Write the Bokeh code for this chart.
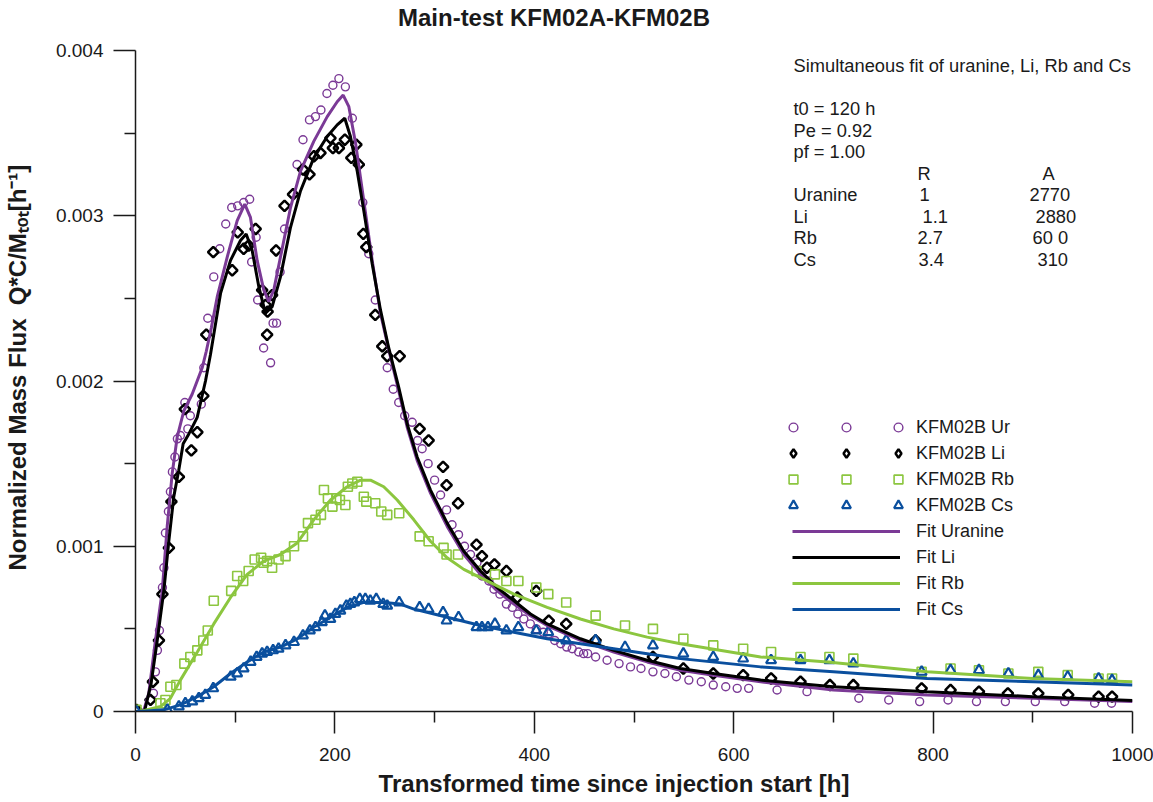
from math import pi
from bokeh.plotting import figure
from bokeh.models import (Range1d, Label, Legend, LegendItem, FixedTicker,
                          CustomJSTickFormatter, LinearAxis)
from bokeh.embed import file_html
from bokeh.resources import INLINE

# ---------------- data ----------------
ur_t = [1, 18, 20, 22, 24, 27, 28.5, 30, 33, 35, 37, 39.5, 42, 45, 49.5, 52.5, 55, 66, 68.5,
        72.5, 78.5, 84.5, 90.5, 96.5, 102.5, 108.5, 114.5, 116.5, 121, 122.5, 128.5, 135.5,
        138, 141.5, 145, 149.5, 162, 168, 174.5, 180.5, 186, 192, 198, 204, 210.5, 217.5,
        228, 234, 240.5, 247.5, 252.5, 258.5, 264, 270, 277.5, 283, 287.5, 293.5, 300, 306,
        312, 317.5, 324, 330, 336, 342.5, 347.5, 354.5, 359.5, 365.5, 372, 378, 383.5, 389.5,
        396, 402, 409, 414.5, 420.5, 426.5, 432.5, 438, 444.5, 449.5, 453.5, 461.5, 473, 485,
        496.5, 507, 519, 531, 542.5, 555, 567.5, 579.5, 592, 603.5, 615, 643.5, 673.5, 725.5,
        755.5, 786.5, 815, 843.5, 872.5, 902.5, 932, 962, 979]
ur_v = [0.0, 0.00011, 0.00024, 0.00037, 0.00049, 0.00075, 0.00087, 0.00108, 0.00121, 0.00133,
        0.00145, 0.00154, 0.00165, 0.00167, 0.00187, 0.00171, 0.00179, 0.00186, 0.00208,
        0.00238, 0.00263, 0.0028, 0.00295, 0.00305, 0.00306, 0.00308, 0.0031, 0.00272, 0.00287,
        0.00249, 0.0022, 0.00211, 0.00235, 0.00235, 0.00266, 0.00292, 0.00331, 0.00346, 0.00358,
        0.0036, 0.00364, 0.00374, 0.00379, 0.00383, 0.00378, 0.00359, 0.00308, 0.00277, 0.00249,
        0.00221, 0.00208, 0.00195, 0.00187, 0.00179, 0.00175, 0.00164, 0.00159, 0.0015, 0.0014,
        0.00131, 0.00122, 0.00113, 0.00107, 0.001, 0.00095, 0.0009, 0.00082, 0.00079, 0.00074,
        0.00071, 0.00065, 0.00063, 0.00059, 0.00056, 0.00053, 0.0005, 0.00048, 0.00047, 0.00043,
        0.00041, 0.00039, 0.00038, 0.00036, 0.00035, 0.00035, 0.00033, 0.00031, 0.00029,
        0.00027, 0.00026, 0.00024, 0.00023, 0.00021, 0.00019, 0.00018, 0.00016, 0.00015,
        0.00014, 0.00014, 0.00013, 0.00012, 0.00008, 0.00007, 0.00006, 0.00007, 0.00006,
        0.00006, 0.00006, 0.00006, 0.00005, 0.00005]

li_t = [1, 15, 17.5, 23.5, 27, 33.5, 36, 43.5, 49.5, 56, 62, 68, 71, 78, 97, 102.5, 108.5,
        113.5, 120.5, 127, 130.5, 132, 132.5, 137, 141, 149.5, 158, 168, 174.5, 179, 185.5,
        195.5, 198, 204, 210, 216.5, 221.5, 224, 228.5, 231.5, 240.5, 247.5, 252.5, 265, 285,
        294, 308.5, 312, 323.5, 342, 347.5, 352.5, 360, 372, 383, 402, 414.5, 432, 461.5, 519,
        549.5, 579.5, 609.5, 637.5, 667, 696.5, 720, 788.5, 817.5, 846, 875, 905.5, 935.5, 966,
        979.5]
li_v = [0.00001, 0.00007, 0.00018, 0.00043, 0.00071, 0.00099, 0.00127, 0.00142, 0.00183,
        0.00158, 0.00169, 0.00191, 0.00228, 0.00278, 0.00267, 0.0029, 0.0028, 0.00282, 0.00292,
        0.00255, 0.00246, 0.00228, 0.00242, 0.00252, 0.00279, 0.00306, 0.00313, 0.00328,
        0.00325, 0.00336, 0.00338, 0.00347, 0.00341, 0.00341, 0.00346, 0.00335, 0.00343,
        0.00331, 0.00289, 0.00281, 0.0024, 0.00221, 0.00215, 0.00215, 0.00171, 0.00164,
        0.00148, 0.00137, 0.00126, 0.00101, 0.00094, 0.00087, 0.00089, 0.00085, 0.00069,
        0.00073, 0.00055, 0.00053, 0.00043, 0.00033, 0.00026, 0.00023, 0.00022, 0.0002,
        0.00018, 0.00016, 0.00016, 0.00014, 0.00013, 0.00012, 0.00011, 0.00011, 0.0001,
        0.00009, 0.00009]

rb_t = [1, 25, 30, 35, 41, 49, 55, 62, 68, 72.5, 78.5, 96, 102, 108, 113.5, 119.5, 126, 128.5,
        132, 137, 143.5, 150.5, 159, 168, 173, 180.5, 186, 189, 193, 197.5, 201.5, 205, 210.5,
        213, 217.5, 222.5, 229, 231.5, 240.5, 246.5, 252.5, 264.5, 285, 294, 309, 312, 323.5,
        342, 360.5, 372, 384, 402, 414, 432, 461.5, 491, 519, 549.5, 579.5, 609.5, 637.5, 667,
        696, 720, 788.5, 817.5, 846, 875.5, 905.5, 935, 966, 979.5]
rb_v = [0.00001, 0.00005, 0.00007, 0.00015, 0.00016, 0.00029, 0.00033, 0.00037, 0.00043,
        0.00049, 0.00067, 0.00073, 0.00082, 0.00079, 0.00085, 0.00092, 0.00093, 0.0009,
        0.00091, 0.00087, 0.00092, 0.00094, 0.001, 0.00106, 0.00114, 0.00116, 0.00119,
        0.00134, 0.00129, 0.00124, 0.00129, 0.00128, 0.00125, 0.00136, 0.00138, 0.00139,
        0.0013, 0.00127, 0.00126, 0.00121, 0.00119, 0.0012, 0.00106, 0.00103, 0.00099,
        0.00095, 0.00095, 0.00085, 0.00083, 0.00079, 0.00079, 0.00075, 0.00071, 0.00066,
        0.00058, 0.00052, 0.0005, 0.00044, 0.0004, 0.00038, 0.00036, 0.00033, 0.00033,
        0.00032, 0.00024, 0.00026, 0.00025, 0.00023, 0.00024, 0.00022, 0.0002, 0.0002]

cs_t = [1, 32, 43.5, 50, 57, 63.5, 70, 78, 95.5, 102, 108.5, 115.5, 121.5, 127, 132, 138,
        143.5, 150.5, 159, 168, 175, 180.5, 187, 190, 195.5, 200.5, 205.5, 211.5, 215.5, 219.5,
        225, 230.5, 235.5, 241.5, 248.5, 252.5, 264.5, 285, 294, 308.5, 312, 324, 342, 347.5,
        353.5, 360.5, 372, 384, 402, 414, 432, 461.5, 491, 519, 549.5, 579.5, 609.5, 637.5,
        667, 696, 720, 788.5, 817.5, 846, 875.5, 905.5, 935, 966, 979.5]
cs_v = [0.0, 0.00001, 0.00003, 0.00005, 0.00006, 0.00008, 0.0001, 0.00014, 0.00021, 0.00023,
        0.00026, 0.0003, 0.00033, 0.00035, 0.00036, 0.00037, 0.00038, 0.0004, 0.00042, 0.00046,
        0.00049, 0.00051, 0.00054, 0.00058, 0.00056, 0.00059, 0.00061, 0.00064, 0.00065,
        0.00066, 0.00068, 0.00068, 0.00067, 0.00068, 0.00065, 0.00064, 0.00066, 0.00063,
        0.00062, 0.0006, 0.00055, 0.00057, 0.00051, 0.00051, 0.00051, 0.00053, 0.00049,
        0.00051, 0.00049, 0.00048, 0.00043, 0.00043, 0.00039, 0.0004, 0.00035, 0.00033,
        0.00032, 0.00031, 0.00031, 0.00031, 0.00029, 0.00024, 0.00025, 0.00025, 0.00023,
        0.00022, 0.00021, 0.0002, 0.00019]

fit_ur_t = [0, 8, 13.3, 20, 26.8, 31.8, 36.8, 41.8, 48.5, 56.8, 66.9, 71, 76, 82, 92, 102,
            109.6, 115.3, 122, 128.7, 133.7, 138.7, 145.4, 155.5, 165.5, 178.8, 192.3, 202.3,
            208.3, 214, 220.7, 229, 237.4, 245.7, 254, 264, 272.5, 282.5, 296, 312.6, 329.3,
            346, 362.8, 379.5, 396.2, 412.9, 446.3, 479.7, 513.2, 546.6, 580, 627, 700, 794,
            900, 1000]
fit_ur_v = [0, 0, 0.00011, 0.00043, 0.00073, 0.00112, 0.00144, 0.00166, 0.00182, 0.00192,
            0.00208, 0.00218, 0.00232, 0.00251, 0.00275, 0.00297, 0.00307, 0.00299, 0.00273,
            0.00255, 0.00248, 0.00255, 0.00275, 0.00305, 0.00327, 0.00345, 0.0036, 0.00369,
            0.00373, 0.00366, 0.00344, 0.00309, 0.00273, 0.00241, 0.00219, 0.00194, 0.00172,
            0.00152, 0.00132, 0.00112, 0.00095, 0.00083, 0.00073, 0.00065, 0.00058, 0.00052,
            0.00043, 0.00036, 0.0003, 0.00025, 0.00022, 0.00018, 0.00013, 0.0001, 0.00008,
            0.00006]

fit_li_t = [0, 9, 15.7, 21.8, 28.4, 33.4, 38.4, 43.4, 47.8, 53.5, 61.9, 70.2, 75.2, 85.3, 95.3,
            105.3, 111, 117, 123.7, 130.4, 137.1, 145.4, 155.5, 165.5, 178.8, 192.3, 202.3,
            209.9, 215.6, 222.4, 229, 237.4, 245.7, 254, 264.1, 272.5, 282.5, 295.9, 312.6,
            329.3, 346, 362.8, 379.5, 396.2, 412.9, 446.3, 479.7, 513.2, 546.6, 580, 627, 700,
            794, 900, 1000]
fit_li_v = [0, 0, 0.00017, 0.00043, 0.00073, 0.00103, 0.0013, 0.00146, 0.00162, 0.00168,
            0.00178, 0.002, 0.00216, 0.00253, 0.00273, 0.00285, 0.00289, 0.00279, 0.00257,
            0.00241, 0.00245, 0.00263, 0.00293, 0.00315, 0.00335, 0.00348, 0.00355, 0.00359,
            0.00348, 0.00327, 0.00303, 0.00271, 0.00243, 0.0022, 0.00196, 0.00174, 0.00154,
            0.00134, 0.00114, 0.00097, 0.00085, 0.00075, 0.00067, 0.00059, 0.00053, 0.00044,
            0.00037, 0.00031, 0.00026, 0.00023, 0.00019, 0.00015, 0.00012, 0.00009, 0.000067]

fit_rb_t = [0, 5, 25, 35, 45, 62, 78.5, 95.3, 112, 128.7, 145.4, 162.2, 178.8, 195.6, 212.3,
            225.7, 235.7, 249, 262.5, 279.2, 295.9, 312.6, 329.3, 346, 379.5, 412.9, 446.3,
            479.7, 513.2, 546.6, 627, 694, 794, 900, 1000]
fit_rb_v = [0, 0, 0.00003, 0.00008, 0.00019, 0.00036, 0.00053, 0.00069, 0.00083, 0.00091,
            0.00095, 0.00102, 0.00116, 0.00128, 0.00136, 0.0014, 0.0014, 0.00136, 0.00128,
            0.00116, 0.00103, 0.00093, 0.00086, 0.00081, 0.00071, 0.00063, 0.00056, 0.0005,
            0.00045, 0.00041, 0.00033, 0.0003, 0.00024, 0.0002, 0.00018]

fit_cs_t = [0, 5, 28.4, 45, 62, 78.5, 95.3, 112, 128.7, 145.4, 162.2, 178.8, 195.6, 212.3, 229,
            249, 265.8, 279.2, 312.6, 346, 379.5, 412.9, 446.3, 479.7, 513.2, 546.6, 627, 700,
            794, 900, 1000]
fit_cs_v = [0, 0, 0.00001, 0.00004, 0.00009, 0.00015, 0.00023, 0.0003, 0.00036, 0.00039,
            0.00044, 0.00051, 0.00057, 0.00063, 0.00066, 0.00066, 0.00065, 0.00062, 0.00057,
            0.00052, 0.00048, 0.00044, 0.00041, 0.00038, 0.00035, 0.00032, 0.00027, 0.00024,
            0.0002, 0.00018, 0.00016]

x_ticks = [0, 200, 400, 600, 800, 1000]
x_minor = [100, 300, 500, 700, 900]
y_ticks = [0, 0.001, 0.002, 0.003, 0.004]
y_minor = [0.0005, 0.0015, 0.0025, 0.0035]

legend_labels = ["KFM02B Ur", "KFM02B Li", "KFM02B Rb", "KFM02B Cs",
                 "Fit Uranine", "Fit Li", "Fit Rb", "Fit Cs"]

title_text = "Main-test KFM02A-KFM02B"
x_label = "Transformed time since injection start [h]"
y_label = "Normalized Mass Flux\u00a0\u00a0Q*C/M\u209c\u2092\u209c[h\u207b\u00b9]"

info_header = "Simultaneous fit of uranine, Li, Rb and Cs"
info_params = ["t0 = 120 h", "Pe = 0.92", "pf = 1.00"]
info_cols = ["R", "A"]
info_names = ["Uranine", "Li", "Rb", "Cs"]
info_R = ["1", "1.1", "2.7", "3.4"]
info_A = ["2770", "2880", "60 0", "310"]

# ---------------- layout ----------------
W, H = 1153, 802
FL, FR, FT, FB = 135, 1132, 50, 711
X0, X1 = 0, 1000
Y0, Y1 = 0, 0.004

PURPLE = "#7b3a96"
BLACK = "#000000"
GREEN = "#8cc63f"
BLUE = "#0a4f9e"
AX = "#1a1a1a"
FONT = "Liberation Sans"
NB = "\u00a0"  # non-breaking space used to shift centred titles


def dx(px):
    return X0 + (px - FL) * (X1 - X0) / (FR - FL)


def dy(py):
    return Y0 + (FB - py) * (Y1 - Y0) / (FB - FT)


p = figure(width=W, height=H, x_range=Range1d(X0, X1), y_range=Range1d(Y0, Y1),
           output_backend="svg", toolbar_location=None,
           min_border_left=FL, min_border_right=W - FR,
           min_border_top=FT, min_border_bottom=H - FB)
p.outline_line_color = None
p.xgrid.visible = False
p.ygrid.visible = False
p.title.text = ""

for ax in (p.xaxis[0], p.yaxis[0]):
    ax.axis_line_color = AX
    ax.axis_line_width = 1.5
    ax.major_tick_line_color = AX
    ax.major_tick_line_width = 1.5
    ax.minor_tick_line_color = AX
    ax.minor_tick_line_width = 1.5
    ax.major_tick_out = 22
    ax.major_tick_in = 0
    ax.minor_tick_out = 11
    ax.minor_tick_in = 0
    ax.major_label_text_font = FONT
    ax.major_label_text_font_size = "19px"
    ax.major_label_text_color = AX
    ax.axis_label_text_font = FONT
    ax.axis_label_text_font_size = "24px"
    ax.axis_label_text_font_style = "bold"
    ax.axis_label_text_color = AX

p.xaxis[0].ticker = FixedTicker(ticks=x_ticks, minor_ticks=x_minor)
p.yaxis[0].ticker = FixedTicker(ticks=y_ticks, minor_ticks=y_minor)
p.yaxis[0].formatter = CustomJSTickFormatter(code="return tick == 0 ? '0' : tick.toFixed(3);")
p.xaxis[0].major_label_standoff = 14
p.yaxis[0].major_label_standoff = 10
p.xaxis[0].axis_label = x_label + NB * 6
p.xaxis[0].axis_label_standoff = 6
p.yaxis[0].axis_label = NB * 4 + y_label
p.yaxis[0].axis_label_standoff = 22

# main title: carried by a tick-less axis above the frame
title_axis = LinearAxis(ticker=FixedTicker(ticks=[], minor_ticks=[]),
                        axis_label=title_text + NB * 24,
                        axis_line_color=None, major_tick_line_color=None,
                        minor_tick_line_color=None, major_tick_out=0, major_tick_in=0,
                        minor_tick_out=0, minor_tick_in=0, major_label_standoff=0,
                        axis_label_standoff=20, axis_label_text_font=FONT,
                        axis_label_text_font_size="24px", axis_label_text_font_style="bold",
                        axis_label_text_color=AX)
p.add_layout(title_axis, "above")

# ---------------- data glyphs ----------------
r_ur = p.scatter(ur_t, ur_v, marker="circle", size=8, fill_color=None,
                 line_color=PURPLE, line_width=1.4)
r_li = p.scatter(li_t, li_v, marker="square", angle=pi / 4, size=7.5, fill_color=None,
                 line_color=BLACK, line_width=2.5)
r_rb = p.scatter(rb_t, rb_v, marker="square", size=9, fill_color=None,
                 line_color=GREEN, line_width=1.6)
r_cs = p.scatter(cs_t, cs_v, marker="triangle", size=10, fill_color=None,
                 line_color=BLUE, line_width=2.2)

f_ur = p.line(fit_ur_t, fit_ur_v, line_color=PURPLE, line_width=3)
f_li = p.line(fit_li_t, fit_li_v, line_color=BLACK, line_width=3)
f_rb = p.line(fit_rb_t, fit_rb_v, line_color=GREEN, line_width=3)
f_cs = p.line(fit_cs_t, fit_cs_v, line_color=BLUE, line_width=3)

# legend swatch for the Li diamonds (legend markers are never rotated); hidden in the plot
r_li_key = p.scatter(li_t[:1], li_v[:1], marker="diamond", size=10, fill_color=None,
                     line_color=BLACK, line_width=2.5, visible=False)

renderers = [r_ur, r_li_key, r_rb, r_cs, f_ur, f_li, f_rb, f_cs]

# ---------------- legend ----------------
GH = 22
GAP = 4
ROW1 = 427


def make_legend(items, left_px, glyph_w, nrows, standoff):
    height = nrows * GH + (nrows - 1) * GAP
    top = ROW1 - GH / 2
    return Legend(items=items, location=(left_px - FL, FB - (top + height)),
                  orientation="vertical", padding=0, margin=0, spacing=GAP,
                  glyph_width=glyph_w, glyph_height=GH, label_height=GH,
                  label_standoff=standoff, label_text_font=FONT,
                  label_text_font_size="18px", label_text_color=AX,
                  border_line_color=None, background_fill_alpha=0,
                  inactive_fill_alpha=0, click_policy="none")


main_items = [LegendItem(label=lab, renderers=[r]) for lab, r in zip(legend_labels, renderers)]
p.add_layout(make_legend(main_items, 792, 108, 8, 16))
for centre in (793, 898):
    extra = [LegendItem(label=" ", renderers=[r]) for r in renderers[:4]]
    p.add_layout(make_legend(extra, centre - GH / 2, GH, 4, 2))


# ---------------- texts in the frame ----------------
def add_text(txt, px, py):
    p.add_layout(Label(x=dx(px), y=dy(py), text=txt, text_font=FONT,
                       text_font_size="18.3px", text_color=AX, text_align="left",
                       text_baseline="middle"))


add_text(info_header, 793, 65)
for i, s in enumerate(info_params):
    add_text(s, 793, 108 + 21.5 * i)
add_text(info_cols[0], 917, 172.5)
add_text(info_cols[1], 1042, 172.5)
r_x = [919, 922, 917, 918]
a_x = [1029, 1035, 1032, 1037]
for i in range(4):
    yy = 194 + 21.5 * i
    add_text(info_names[i], 793, yy)
    add_text(info_R[i], r_x[i], yy)
    add_text(info_A[i], a_x[i], yy)

open("out.html", "w").write(file_html(p, INLINE))
